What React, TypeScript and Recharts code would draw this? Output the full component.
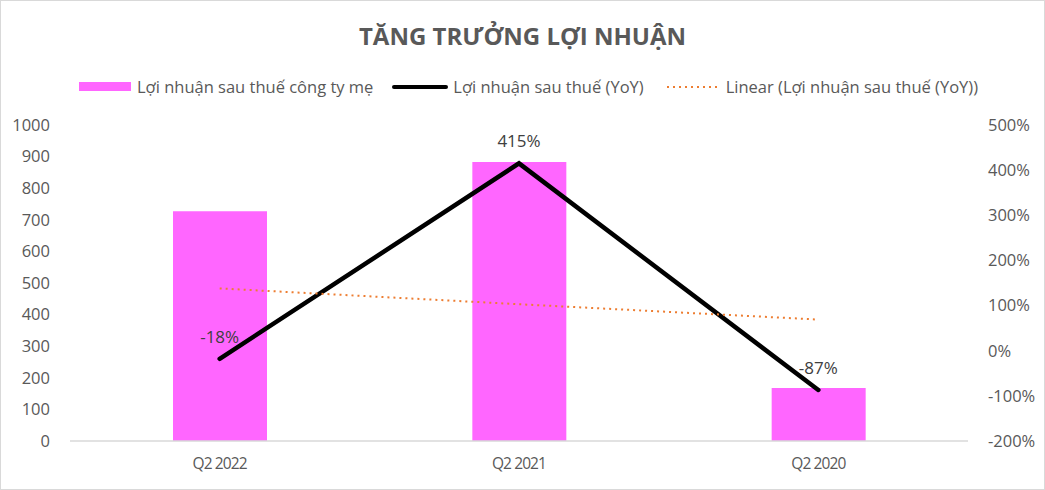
import React from "react";
import {
  ComposedChart,
  Bar,
  Line,
  XAxis,
  YAxis,
  LabelList,
} from "recharts";

const quarters = ["Q2 2022", "Q2 2021", "Q2 2020"];
const parentProfit = [727, 883, 168];
const profitYoY = [-18, 415, -87];
const yoyTrend = [138, 103, 69];

const leftTicks = [0, 100, 200, 300, 400, 500, 600, 700, 800, 900, 1000];
const rightTicks = [-200, -100, 0, 100, 200, 300, 400, 500];

const data = quarters.map((q, i) => ({
  name: q,
  profit: parentProfit[i],
  yoy: profitYoY[i],
  trend: yoyTrend[i],
}));

const FONT = "'Open Sans', 'Noto Sans', sans-serif";
const TEXT = "#595959";

// legend row drawn above the plot area
const LegendRow: React.FC = () => (
  <div
    style={{
      position: "absolute",
      top: 74,
      left: 78,
      display: "flex",
      alignItems: "center",
      fontFamily: FONT,
      fontSize: 16.5,
      color: TEXT,
      whiteSpace: "nowrap",
    }}
  >
    <span style={{ width: 52, height: 9, background: "#FF66FF", display: "inline-block" }} />
    <span style={{ marginLeft: 6 }}>Lợi nhuận sau thuế công ty mẹ</span>
    <svg width={58} height={10} style={{ marginLeft: 18 }}>
      <line x1={3} y1={5} x2={55} y2={5} stroke="#000" strokeWidth={4} strokeLinecap="round" />
    </svg>
    <span style={{ marginLeft: 4 }}>Lợi nhuận sau thuế (YoY)</span>
    <svg width={54} height={10} style={{ marginLeft: 22 }}>
      <line x1={1} y1={5} x2={53} y2={5} stroke="#ED7D31" strokeWidth={2} strokeDasharray="2 4" />
    </svg>
    <span style={{ marginLeft: 6 }}>Linear (Lợi nhuận sau thuế (YoY))</span>
  </div>
);

export default function App() {
  return (
    <div
      style={{
        position: "absolute",
        left: 0,
        top: 0,
        width: 1045,
        height: 490,
        border: "1px solid #d9d9d9",
        boxSizing: "border-box",
        background: "#fff",
      }}
    >
      <div
        style={{
          position: "absolute",
          top: 18,
          width: "100%",
          textAlign: "center",
          fontFamily: FONT,
          fontWeight: 700,
          fontSize: 24,
          color: TEXT,
        }}
      >
        TĂNG TRƯỞNG LỢI NHUẬN
      </div>
      <LegendRow />
      <ComposedChart
        width={1043}
        height={488}
        data={data}
        margin={{ top: 124, right: 0, bottom: 0, left: 0 }}
        style={{ fontFamily: FONT, position: "absolute", top: 0, left: 0 }}
      >
        <XAxis
          dataKey="name"
          height={48}
          tickLine={false}
          axisLine={{ stroke: "#d9d9d9", strokeWidth: 1.5 }}
          tick={{ fill: TEXT, fontSize: 15.5, letterSpacing: -0.9 }}
          tickMargin={11}
        />
        <YAxis
          yAxisId="left"
          width={69}
          domain={[0, 1000]}
          ticks={leftTicks}
          axisLine={false}
          tickLine={false}
          tick={{ fill: TEXT, fontSize: 16.5 }}
          tickMargin={14}
        />
        <YAxis
          yAxisId="right"
          orientation="right"
          width={76}
          domain={[-200, 500]}
          ticks={rightTicks}
          tickFormatter={(v: number) => `${v}%`}
          axisLine={false}
          tickLine={false}
          tick={{ fill: TEXT, fontSize: 16.5, textAnchor: "start" }}
          tickMargin={14}
        />
        <Bar
          yAxisId="left"
          dataKey="profit"
          fill="#FF66FF"
          barSize={94}
          isAnimationActive={false}
        />
        <Line
          yAxisId="right"
          dataKey="yoy"
          stroke="#000"
          strokeWidth={4.5}
          strokeLinecap="round"
          strokeLinejoin="miter"
          dot={false}
          activeDot={false}
          isAnimationActive={false}
        >
          <LabelList
            dataKey="yoy"
            position="top"
            offset={16}
            formatter={(v: number) => `${v}%`}
            style={{ fill: "#404040", fontSize: 17 }}
          />
        </Line>
        <Line
          yAxisId="right"
          dataKey="trend"
          stroke="#ED7D31"
          strokeWidth={2}
          strokeDasharray="2 4"
          dot={false}
          activeDot={false}
          isAnimationActive={false}
        />
      </ComposedChart>
    </div>
  );
}
